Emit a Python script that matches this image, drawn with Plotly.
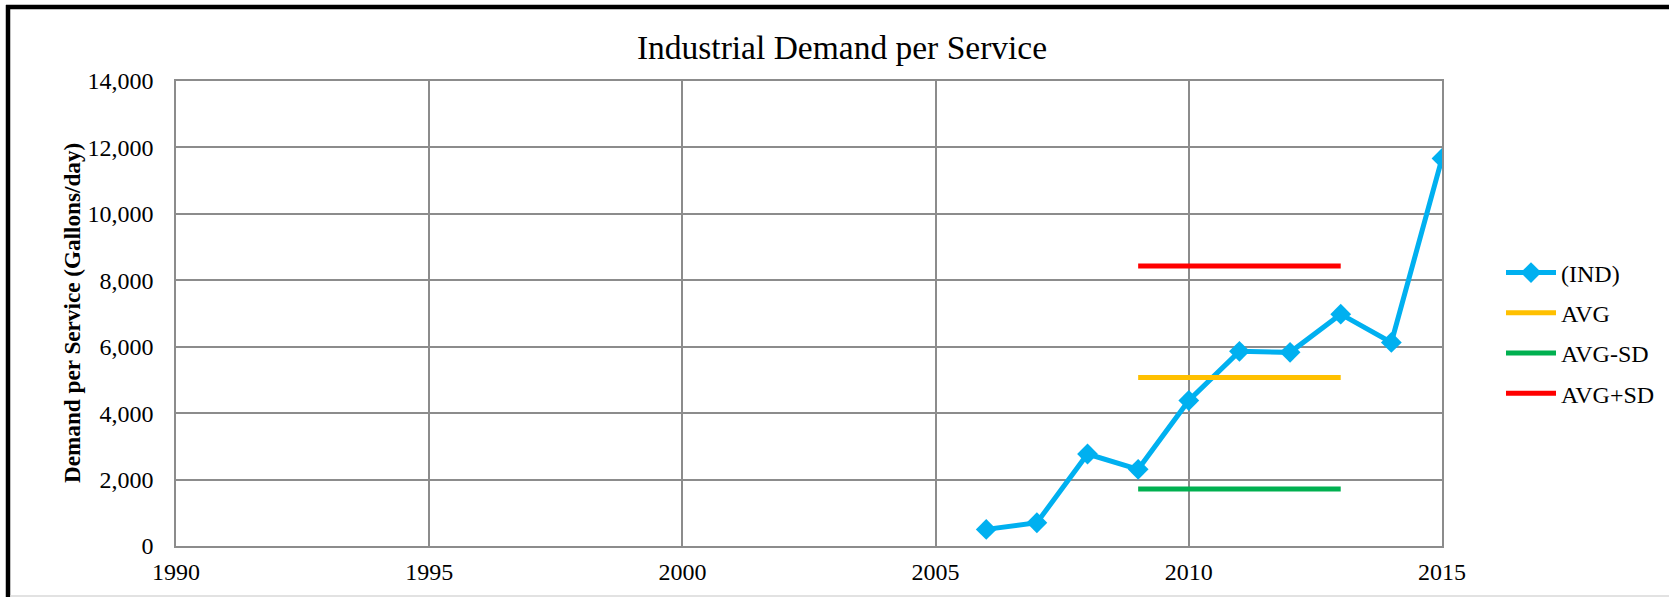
import plotly.graph_objects as go

years = [2006, 2007, 2008, 2009, 2010, 2011, 2012, 2013, 2014, 2015]
ind_values = [500, 700, 2770, 2310, 4380, 5860, 5830, 6980, 6130, 11670]

stat_years = [2009, 2013]
avg_value = 5075
avg_minus_sd = 1715
avg_plus_sd = 8430

x_ticks = [1990, 1995, 2000, 2005, 2010, 2015]
y_ticks = [0, 2000, 4000, 6000, 8000, 10000, 12000, 14000]

FONT = "Liberation Serif, Times New Roman, serif"
W, H = 1669, 597
L, R, T, B = 176, 1442, 81, 546

def px_x(p):
    return (p - L) / (R - L)

def px_y(p):
    return (B - p) / (B - T)

fig = go.Figure()
fig.add_trace(go.Scatter(
    x=years, y=ind_values, name="(IND)", mode="lines+markers",
    line=dict(color="#00B0F0", width=5),
    marker=dict(symbol="diamond", size=16, color="#00B0F0"),
    legendgroup="a",
))
fig.add_trace(go.Scatter(
    x=stat_years, y=[avg_value] * len(stat_years), name="AVG", mode="lines",
    line=dict(color="#FFC000", width=5), legendgroup="b",
))
fig.add_trace(go.Scatter(
    x=stat_years, y=[avg_minus_sd] * len(stat_years), name="AVG-SD", mode="lines",
    line=dict(color="#00B050", width=5), legendgroup="c",
))
fig.add_trace(go.Scatter(
    x=stat_years, y=[avg_plus_sd] * len(stat_years), name="AVG+SD", mode="lines",
    line=dict(color="#FF0000", width=5), legendgroup="d",
))

grid = "#8c8c8c"
fig.update_layout(
    width=W, height=H,
    margin=dict(l=L, r=W - R, t=T, b=H - B, autoexpand=False),
    paper_bgcolor="white", plot_bgcolor="white",
    font=dict(family=FONT, size=24, color="black"),
    title=dict(text="Industrial Demand per Service", x=px_x(842), xref="paper",
               xanchor="center", y=1 - 47 / H, yref="container", yanchor="middle",
               font=dict(family=FONT, size=33.5, color="black"), automargin=False),
    showlegend=True,
    legend=dict(x=px_x(1501), xanchor="left", y=px_y(333), yanchor="middle",
                font=dict(family=FONT, size=24, color="black"),
                tracegroupgap=6, itemwidth=50, bgcolor="rgba(0,0,0,0)"),
    xaxis=dict(range=[1990, 2015], tickvals=x_ticks, ticktext=[str(v) for v in x_ticks],
               showgrid=True, gridcolor=grid, gridwidth=1.5, automargin=False,
               showline=True, linecolor=grid, linewidth=1.5, mirror=True,
               ticks="outside", ticklen=3, tickcolor="rgba(0,0,0,0)",
               zeroline=False, tickfont=dict(family=FONT, size=24)),
    yaxis=dict(range=[0, 14000], tickvals=y_ticks, ticktext=[f"{v:,}" for v in y_ticks],
               showgrid=True, gridcolor=grid, gridwidth=1.5, automargin=False,
               showline=True, linecolor=grid, linewidth=1.5, mirror=True,
               ticks="outside", ticklen=16, tickcolor="rgba(0,0,0,0)",
               zeroline=False, tickfont=dict(family=FONT, size=24)),
    annotations=[dict(text="<b>Demand per Service (Gallons/day)</b>", textangle=-90,
                      xref="paper", yref="paper", x=px_x(72), y=px_y(313),
                      xanchor="center", yanchor="middle", showarrow=False,
                      font=dict(family=FONT, size=23.2, color="black"))],
    shapes=[
        dict(type="line", xref="paper", yref="paper", x0=px_x(8), x1=px_x(8),
             y0=px_y(5), y1=px_y(600), line=dict(color="black", width=4.5)),
        dict(type="line", xref="paper", yref="paper", x0=px_x(6), x1=px_x(1672),
             y0=px_y(7), y1=px_y(7), line=dict(color="black", width=4.5)),
        dict(type="line", xref="paper", yref="paper", x0=px_x(10), x1=px_x(1672),
             y0=px_y(596), y1=px_y(596), line=dict(color="#d9d9d9", width=1.5)),
    ],
)

fig.write_html("out.html", config={"displayModeBar": False},
               post_script="document.body.style.margin='0px';document.body.style.overflow='hidden';")
